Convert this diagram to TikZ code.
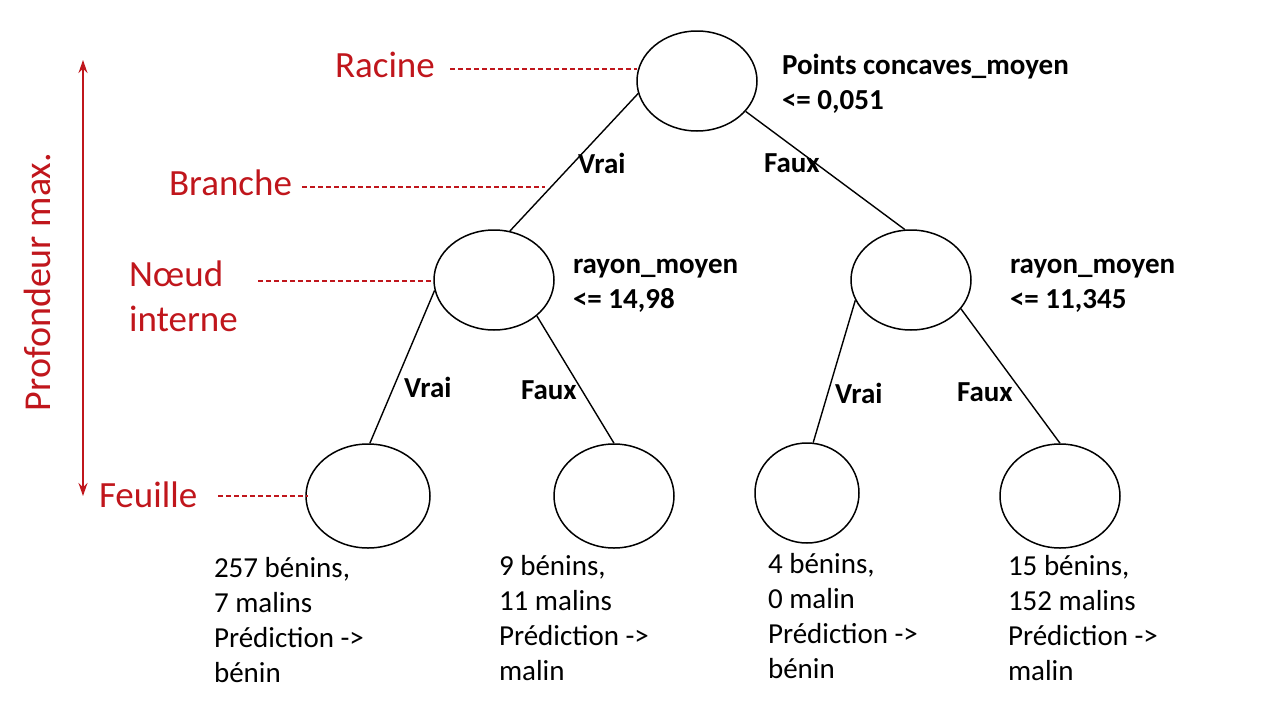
\documentclass[tikz,border=0pt]{standalone}
\usepackage{fontspec}
\setmainfont{Carlito}
\usetikzlibrary{arrows.meta,shapes.geometric}
\definecolor{rd}{HTML}{C0161C}
\begin{document}
\begin{tikzpicture}[x=1pt,y=-1pt,line width=1.4pt,
 el/.style={draw,ellipse,line width=1.5pt,inner sep=0pt},
 lab/.style={font=\fontsize{29}{34}\selectfont\bfseries,anchor=west},
 blab/.style={font=\fontsize{29}{35}\selectfont\bfseries,anchor=west,align=left},
 rl/.style={font=\fontsize{37}{44}\selectfont,text=rd,anchor=west},
 dl/.style={rd,dash pattern=on 5pt off 3pt,line width=1.2pt},
 txt/.style={font=\fontsize{29}{35}\selectfont,anchor=north west,align=left}]
\useasboundingbox (0,0) rectangle (1280,720);
\node[el,minimum width=120,minimum height=100] (r) at (697,81) {};
\node[el,minimum width=120,minimum height=100] (a) at (494,280) {};
\node[el,minimum width=120,minimum height=100] (b) at (911,280) {};
\node[el,minimum width=124,minimum height=104] (l1) at (368,496) {};
\node[el,minimum width=120,minimum height=104] (l2) at (614,496) {};
\node[el,minimum width=104,minimum height=100] (l3) at (807,493) {};
\node[el,minimum width=120,minimum height=104] (l4) at (1060,496) {};
\draw (r.192) -- (a.72);
\draw (r.-32) -- (b.97);
\draw (a.190) -- (l1.88);
\draw (a.-40) -- (l2.90);
\draw (b.200) -- (l3.83);
\draw (b.-30) -- (l4.90);
\node[lab] at (574,163) {Vrai};
\node[lab] at (760,163) {Faux};
\node[lab] at (400,387) {Vrai};
\node[lab] at (517,390) {Faux};
\node[lab] at (831,393) {Vrai};
\node[lab] at (953,392) {Faux};
\node[blab] at (778,84) {Points concaves\_moyen\\<= 0,051};
\node[blab] at (569,286) {rayon\_moyen\\<= 14,98};
\node[blab] at (1006,286) {rayon\_moyen\\<= 11,345};
\node[txt] at (210,553) {257 bénins,\\7 malins\\Prédiction ->\\bénin};
\node[txt] at (495,551) {9 bénins,\\11 malins\\Prédiction ->\\malin};
\node[txt] at (764,549) {4 bénins,\\0 malin\\Prédiction ->\\bénin};
\node[txt] at (1004,551) {15 bénins,\\152 malins\\Prédiction ->\\malin};
\node[rl] (rc) at (331,65) {Racine};
\node[rl] (br) at (165,183) {Branche};
\node[rl,align=left,font=\fontsize{37}{45}\selectfont] (ni) at (125,296) {Nœud\\interne};
\node[rl] (fe) at (95,495) {Feuille};
\coordinate (c1) at (637,69);
\coordinate (c2) at (545,187);
\coordinate (c3) at (434,281);
\coordinate (c4) at (308,496);
\draw[dl] (450,69) -- (c1);
\draw[dl] (302,187) -- (c2);
\draw[dl] (258,281) -- (c3);
\draw[dl] (218,496) -- (c4);
\coordinate (t) at (83,60);
\coordinate (bt) at (83,496);
\draw[rd,line width=1.4pt,{Stealth[length=13pt,width=9pt]}-{Stealth[length=13pt,width=9pt]}] (t) -- (bt);
\node[rotate=90,text=rd,font=\fontsize{38}{44}\selectfont] (pm) at (37,282) {Profondeur max.};
\end{tikzpicture}
\end{document}
